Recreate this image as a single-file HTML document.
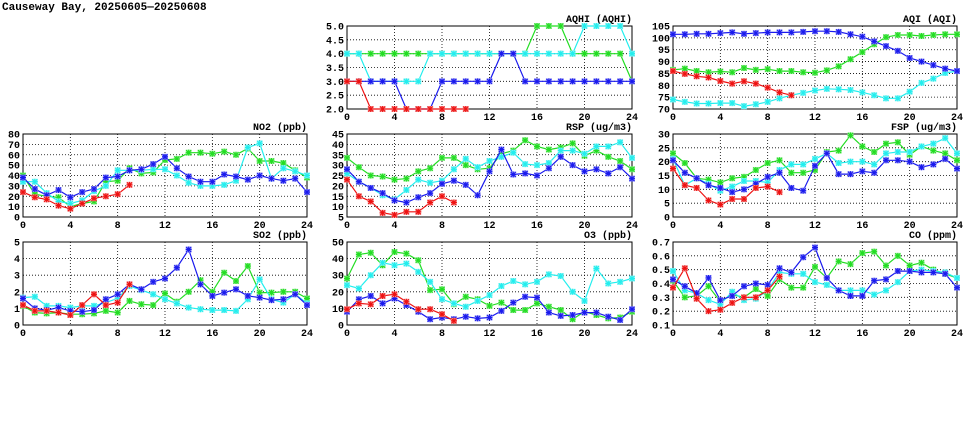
<!DOCTYPE html>
<html><head><meta charset="utf-8"><style>
html,body{margin:0;padding:0;background:#fff;}
svg{display:block;font-family:"Liberation Mono","DejaVu Sans Mono",monospace;}
</style></head><body>
<svg id="chart" width="975" height="447" viewBox="0 0 975 447" xmlns="http://www.w3.org/2000/svg">
<text x="2" y="10" font-size="11" font-weight="bold">Causeway Bay, 20250605—20250608</text>
</svg>
<script>
const hours = [0,1,2,3,4,5,6,7,8,9,10,11,12,13,14,15,16,17,18,19,20,21,22,23,24];
const xTicks = [0,4,8,12,16,20,24];

const aqhiRed = [3,3,2,2,2,2,2,2,2,2,2];
const aqhiCyan = [4,4,3,3,3,3,3,4,4,4,4,4,4,4,4,4,4,4,4,4,5,5,5,5,4];
const aqhiGreen = [4,4,4,4,4,4,4,4,4,4,4,4,4,4,4,4,5,5,5,4,4,4,4,4,3];
const aqhiBlue = [3,3,3,3,3,2,2,2,3,3,3,3,3,4,4,3,3,3,3,3,3,3,3,3,3];
const aqhiTicks = ["2.0","2.5","3.0","3.5","4.0","4.5","5.0"];

const aqiRed = [86,84.8,83.8,83.3,81.8,80.7,81.7,80.7,79,77,75.8];
const aqiCyan = [74,73,72.3,72.3,72.5,72.5,71.2,72,73,74.5,75.8,76.8,77.8,78.5,78.3,78,77,75.8,74.5,74.5,77.3,81,82.8,85.2,86];
const aqiGreen = [86.5,87,86,85.5,85.8,85.5,87.3,86.5,86.8,86,86,85.5,85.3,86.3,88,91,94,97.3,100.3,101.2,101.2,100.8,101.2,101.5,101.5];
const aqiBlue = [101.5,101.5,101.7,101.7,102,102.3,101.7,102,102.3,102.3,102.3,102.5,102.8,102.8,102.5,101.5,100.5,98.5,96.5,94.5,91.5,90,88.5,87,86];
const aqiTicks = ["70","75","80","85","90","95","100","105"];

const no2Red = [24,19,17,11,8,13,18,20,22,31];
const no2Cyan = [34,34,23,15,13,16,25,30,45,45,45,46,46,40,33,30,30,31,35,67,71,37,47,44,40];
const no2Green = [40,22,20,19,10,13,15,34,35,47,42,43,55,56,62,62,61,63,60,66,54,54,52,45,38];
const no2Blue = [38,27,21,26,19,24,27,38,39,45,46,51,58,47,39,34,34,41,39,36,40,37,35,37,24];
const no2Ticks = ["0","10","20","30","40","50","60","70","80"];

const rspRed = [23,15,12.5,7,6,7.5,7.5,12,15,12];
const rspCyan = [26,22,19,15.5,13.5,18,23,21.5,22.5,28,33,29,32,34,36,30.5,30,31,37,37,35.5,39,39,41,33.5];
const rspGreen = [33.5,29,25,24.5,23,23.5,27,28.5,33.5,33.5,30,28,28.5,35.5,37,42,39,37.5,38.5,40.5,34.5,37,34,32,28];
const rspBlue = [28,22,19,16.5,13,12,14.5,16.5,21,22.5,20.5,15.5,27,37.5,25.5,26,25,28.5,34,30,27,28,26,29,23.5];
const rspTicks = ["5","10","15","20","25","30","35","40","45"];

const fspRed = [17.5,11.5,10.5,6,4.5,6.5,6.5,10.5,11,9];
const fspCyan = [21,11.5,14,12,9.5,11,13,13,12.5,17,19,19,21,23,19.5,20,20,19,23,23.5,23.5,25.5,26.5,28.5,23];
const fspGreen = [23,19.5,14,13.5,12.5,14,14.5,17,19.5,20.5,16,16,17,23.5,24,29.5,25.5,23.5,26.5,27,22.5,25.5,24,23,20.5];
const fspBlue = [20.5,16,14,11.5,10.5,9,10,12,14.5,16,10.5,9.5,18.5,23,15.5,15.5,16.5,16,20.5,20.5,20,18,19,21,17.5];
const fspTicks = ["0","5","10","15","20","25","30"];

const so2Red = [1.2,0.85,0.85,0.75,0.6,1.2,1.85,1.2,1.35,2.45];
const so2Cyan = [1.65,1.7,1.15,1.15,1.05,1.15,1.15,1.35,1.6,2.35,2.1,1.85,1.55,1.3,1.05,0.95,0.9,0.9,0.85,1.55,2.75,1.55,1.35,1.85,1.3];
const so2Green = [1.15,0.75,0.7,0.75,0.65,0.65,0.7,0.85,0.75,1.45,1.25,1.2,1.9,1.4,2.0,2.7,2.0,3.15,2.65,3.55,1.95,1.95,2.0,2.0,1.6];
const so2Blue = [1.6,1.0,0.9,1.05,0.85,0.8,0.9,1.55,1.85,2.45,2.15,2.6,2.8,3.45,4.55,2.45,1.75,1.95,2.15,1.75,1.65,1.5,1.55,1.85,1.2];
const so2Ticks = ["0","1","2","3","4","5"];

const o3Red = [9.5,13,12.5,17.5,18.5,14,9.5,9.5,6.5,2.5];
const o3Cyan = [24,22,30,37.5,36,37,32,26,15.5,13,11,14.5,18,23.5,26.5,24.5,26,30.5,29.5,20,14.5,34,25,26,28];
const o3Green = [28,42.5,43.5,36,44,43,39,21,21.5,12.5,17,15.5,11.5,13.5,9,9,13,11,9,3.5,8,6,4,4.5,8];
const o3Blue = [8,15.5,17.5,13,16,12,8,3.5,4.5,3.5,5,4,4.5,8.5,13.5,17,16.5,7.5,5.5,6,7.5,7.5,5,3,9.5];
const o3Ticks = ["0","10","20","30","40","50"];

const coRed = [0.37,0.51,0.29,0.20,0.21,0.26,0.30,0.30,0.35,0.45];
const coCyan = [0.49,0.35,0.33,0.28,0.25,0.34,0.28,0.29,0.35,0.48,0.47,0.47,0.41,0.39,0.35,0.35,0.35,0.32,0.35,0.41,0.49,0.50,0.49,0.48,0.44];
const coGreen = [0.42,0.30,0.31,0.38,0.27,0.32,0.30,0.36,0.31,0.43,0.37,0.37,0.52,0.44,0.56,0.54,0.62,0.63,0.53,0.60,0.53,0.55,0.50,0.47,0.44];
const coBlue = [0.43,0.38,0.33,0.44,0.28,0.31,0.38,0.40,0.39,0.51,0.48,0.59,0.66,0.44,0.35,0.31,0.31,0.42,0.43,0.49,0.49,0.48,0.48,0.47,0.37];
const coTicks = ["0.1","0.2","0.3","0.4","0.5","0.6","0.7"];

const NS = "http://www.w3.org/2000/svg";
const svg = document.getElementById("chart");
const COLORS = {red:"#ee1111", cyan:"#22eeee", green:"#22dd22", blue:"#1a1aee"};
const HALO = {red:"#f4a0a0", cyan:"#a0f4f4", green:"#a0eea0", blue:"#a0a0f4"};

function mk(tag, attrs, parent){
  const e = document.createElementNS(NS, tag);
  for (const k in attrs) e.setAttribute(k, attrs[k]);
  (parent||svg).appendChild(e);
  return e;
}

function panel(id, title, x0, x1, y0, y1, ticks, series){
  const g = mk("g", {});
  
  
  const tv = ticks.map(Number);
  const ymin = tv[0], ymax = tv[tv.length-1];
  const sx = h => x0 + (x1 - x0) * h / 24;
  const sy = v => y1 - (y1 - y0) * (v - ymin) / (ymax - ymin);
  // grid
  ticks.forEach((t, i) => {
    const y = sy(Number(t));
    if (i > 0 && i < ticks.length - 1) {
      const l = mk("line", {x1:x0, x2:x1, y1:y, y2:y, stroke:"#000", "stroke-width":0.8, "stroke-dasharray":"1,2"}, g);
      
      
    }
    const tx = mk("text", {x:x0 - 3, y:y + 3.5, "font-size":"10", "font-weight":"bold", "text-anchor":"end"}, g);
    
    
    tx.textContent = t;
  });
  xTicks.forEach(h => {
    const x = sx(h);
    if (h > 0 && h < 24) {
      const l = mk("line", {x1:x, x2:x, y1:y0, y2:y1, stroke:"#000", "stroke-width":0.8, "stroke-dasharray":"1,2"}, g);
      
      
    }
    const tx = mk("text", {x:x, y:y1 + 11, "font-size":"10", "font-weight":"bold", "text-anchor":"middle"}, g);
    
    
    tx.textContent = String(h);
  });
  const fr = mk("rect", {x:x0, y:y0, width:x1 - x0, height:y1 - y0, fill:"none", stroke:"#000", "stroke-width":1}, g);
  
  
  const tt = mk("text", {x:x1, y:y0 - 4, "font-size":"10", "font-weight":"bold", "text-anchor":"end"}, g);
  
  
  tt.textContent = title;
  series.forEach(([cname, vals]) => {
    const pts = vals.map((v, i) => sx(hours[i]).toFixed(1) + "," + sy(v).toFixed(1)).join(" ");
    const pl = mk("polyline", {points:pts, fill:"none", stroke:COLORS[cname], "stroke-width":1.2}, g);
    
    
    vals.forEach((v, i) => {
      const cx = sx(hours[i]), cy = sy(v);
      const m = mk("g", {}, g);
      
      
      mk("rect", {x:cx - 3, y:cy - 3, width:6, height:6, fill:HALO[cname]}, m);
      const d = `M${cx-3},${cy}H${cx+3}M${cx},${cy-3}V${cy+3}M${cx-2.5},${cy-2.5}L${cx+2.5},${cy+2.5}M${cx-2.5},${cy+2.5}L${cx+2.5},${cy-2.5}`;
      mk("path", {d:d, stroke:COLORS[cname], "stroke-width":1.1, fill:"none"}, m);
    });
  });
}

const C1 = [23, 307], C2 = [347, 632], C3 = [673, 957];
const R1 = [26, 109], R2 = [134, 217], R3 = [242, 325];

panel("aqhi", "AQHI (AQHI)", C2[0], C2[1], R1[0], R1[1], aqhiTicks, [["green",aqhiGreen],["cyan",aqhiCyan],["blue",aqhiBlue],["red",aqhiRed]]);
panel("aqi", "AQI (AQI)", C3[0], C3[1], R1[0], R1[1], aqiTicks, [["green",aqiGreen],["cyan",aqiCyan],["blue",aqiBlue],["red",aqiRed]]);
panel("no2", "NO2 (ppb)", C1[0], C1[1], R2[0], R2[1], no2Ticks, [["green",no2Green],["cyan",no2Cyan],["blue",no2Blue],["red",no2Red]]);
panel("rsp", "RSP (ug/m3)", C2[0], C2[1], R2[0], R2[1], rspTicks, [["green",rspGreen],["cyan",rspCyan],["blue",rspBlue],["red",rspRed]]);
panel("fsp", "FSP (ug/m3)", C3[0], C3[1], R2[0], R2[1], fspTicks, [["green",fspGreen],["cyan",fspCyan],["blue",fspBlue],["red",fspRed]]);
panel("so2", "SO2 (ppb)", C1[0], C1[1], R3[0], R3[1], so2Ticks, [["green",so2Green],["cyan",so2Cyan],["blue",so2Blue],["red",so2Red]]);
panel("o3", "O3 (ppb)", C2[0], C2[1], R3[0], R3[1], o3Ticks, [["green",o3Green],["cyan",o3Cyan],["blue",o3Blue],["red",o3Red]]);
panel("co", "CO (ppm)", C3[0], C3[1], R3[0], R3[1], coTicks, [["green",coGreen],["cyan",coCyan],["blue",coBlue],["red",coRed]]);
</script>
</body></html>
